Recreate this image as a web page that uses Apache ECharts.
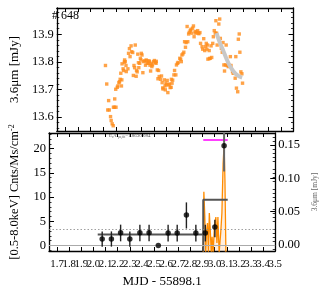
<!DOCTYPE html>
<html><head><meta charset="utf-8">
<script src="https://cdn.jsdelivr.net/npm/echarts@6/dist/echarts.min.js"></script>
<style>html,body{margin:0;padding:0;background:#fff}#c{width:327px;height:290px}</style>
</head><body><div id="c"></div>
<script>
// ---- tick labels ----
const xTickLabels = ['1.7','1.8','1.9','2.0','2.1','2.2','2.3','2.4','2.5','2.6','2.7','2.8','2.9','3.0','3.1','3.2','3.3','3.4','3.5'];
const irTickLabels = ['13.6','13.7','13.8','13.9'];
const xrTickLabels = ['0','5','10','15','20'];
const mjyTickLabels = ['0.00','0.05','0.10','0.15'];

// ---- 3.6 micron light curve (top panel) ----
const irX = [2.017,2.027,2.042,2.035,2.047,2.057,2.062,2.070,2.078,2.080,2.090,2.088,2.098,2.100,2.110,2.115,2.123,2.128,2.133,2.138,
2.143,2.146,2.156,2.148,2.161,2.166,2.173,2.168,2.179,2.181,2.194,2.199,2.206,2.211,2.219,2.224,2.232,2.237,2.242,2.247,
2.252,2.259,2.262,2.267,2.272,2.280,2.277,2.287,2.292,2.297,2.300,2.305,2.312,2.317,2.325,2.333,2.338,2.343,2.345,2.355,
2.360,2.363,2.368,2.373,2.378,2.383,2.388,2.396,2.403,2.411,2.416,2.418,2.426,2.436,2.431,2.441,2.451,2.459,2.464,2.469,
2.471,2.481,2.487,2.489,2.494,2.499,2.504,2.509,2.517,2.522,2.527,2.535,2.537,2.542,2.547,2.557,2.562,
2.572,2.577,2.585,2.590,2.603,2.610,2.615,2.620,2.628,2.635,2.648,2.641,2.653,2.661,2.673,2.666,2.678,2.686,2.691,2.699,
2.704,2.711,2.716,2.724,2.729,2.736,2.744,2.749,2.754,2.762,2.767,2.779,2.784,2.792,2.800,2.807,2.812,2.817,2.822,2.825,
2.835,2.837,2.843,2.850,2.855,2.863,2.868,2.875,2.883,2.888,2.893,2.898,2.911,2.918,2.923,2.931,2.938,2.944,2.951,2.956,
2.964,2.969,2.976,2.986,2.994,3.002,3.007,3.019,3.024,3.032,3.040,3.045,3.050,3.060,3.065,3.072,3.077,3.085,3.093,3.098];
const irY = [13.787,13.720,13.660,13.626,13.626,13.602,13.588,13.576,13.569,13.636,13.666,13.636,13.701,13.636,13.708,13.713,13.725,13.728,13.737,13.759,
13.713,13.735,13.775,13.793,13.769,13.799,13.801,13.807,13.787,13.765,13.775,13.831,13.848,13.819,13.858,13.837,13.834,13.751,13.787,13.779,
13.861,13.748,13.769,13.764,13.828,13.779,13.797,13.795,13.813,13.807,13.831,13.825,13.761,13.801,13.804,13.788,13.807,13.804,13.795,13.795,
13.804,13.801,13.788,13.767,13.795,13.783,13.789,13.801,13.805,13.798,13.795,13.802,13.771,13.769,13.739,13.747,13.737,13.749,13.725,13.706,
13.702,13.735,13.713,13.699,13.723,13.717,13.733,13.689,13.717,13.720,13.707,13.708,13.737,13.723,13.734,13.753,13.769,
13.753,13.789,13.795,13.798,13.813,13.810,13.801,13.825,13.829,13.835,13.853,13.873,13.870,13.928,13.901,13.873,13.907,13.913,13.918,13.904,
13.922,13.930,13.891,13.910,13.904,13.908,13.913,13.904,13.902,13.906,13.867,13.855,13.846,13.884,13.841,13.855,13.867,13.846,13.861,13.810,
13.841,13.812,13.813,13.858,13.816,13.867,13.891,13.913,13.904,13.949,13.904,13.861,13.937,13.955,13.885,13.849,13.835,13.870,13.789,13.767,
13.789,13.861,13.787,13.783,13.787,13.819,13.787,13.765,13.759,13.759,13.741,13.819,13.705,13.692,13.882,13.901,13.835,13.764,13.757,13.723];
const fitX = [2.893,2.918,2.944,2.969,2.994,3.020,3.045,3.070,3.095];
const fitY = [13.904,13.871,13.843,13.814,13.789,13.770,13.756,13.748,13.743];

// ---- X-ray light curve (bottom panel, left axis) ----
const xrX  = [2.072,2.148,2.224,2.300,2.383,2.459,2.535,2.616,2.691,2.767,2.845,2.923,3.002,3.078];
const xrY  = [1.32,1.32,2.63,1.32,2.63,2.63,0.0,2.56,2.56,6.28,2.56,2.56,3.80,20.6];
const xrLo = [-0.25,-0.25,0.85,-0.25,0.85,0.85,0.0,0.83,0.83,3.5,0.83,0.83,1.7,15.3];
const xrHi = [2.9,2.9,4.3,2.9,4.3,4.3,0.0,4.28,4.28,8.9,4.28,4.28,5.3,23.3];
const blockX = [2.035,2.906,2.906,2.906,3.108];
const blockY = [2.27,2.27,-1.2,9.45,9.45];
const flareX = [2.906,3.108];
const flareY = [21.8,21.8];
const zeroLevel = 0;
const dottedLevel = 3.25;

// ---- 3.6 micron excess (bottom panel, right axis) ----
const exX = [2.906,2.911,2.919,2.926,2.934,2.941,2.949,2.956,2.964,2.972,2.979,2.987,2.997,3.010,3.019,3.027,3.037,3.050,3.060,3.070,3.078,3.085,3.093,3.100];
const exY = [-0.012,0.080,0.042,-0.012,0.0225,0.033,-0.012,0.048,0.0225,-0.012,0.0125,-0.012,0.0225,0.042,0.003,0.042,-0.012,0.018,0.048,0.1225,0.15,0.0975,-0.012,-0.012];

const F = 'Liberation Serif';
const xTicks = xTickLabels.map(Number);
const xTicksA = xTicks.filter((v, i) => i % 2 === 0);
const xTicksB = xTicks.filter((v, i) => i % 2 === 1);
const XMIN = 1.633, XMAX = 3.5;

function xAx(grid, pos, labelVals, name, bare) {
  return {
    type: 'value', gridIndex: grid, position: pos, min: XMIN, max: XMAX,
    axisLine: {show: !bare, onZero: false, lineStyle: {color: '#000', width: 1.3}},
    axisTick: {show: !bare, inside: true, length: 4, customValues: xTicks, lineStyle: {color: '#000', width: 1}},
    axisLabel: {show: !!labelVals, customValues: labelVals || xTicks, formatter: v => v.toFixed(1), fontFamily: F, fontSize: 10.8, color: '#000', margin: 8,
                showMinLabel: true, showMaxLabel: true, hideOverlap: false},
    splitLine: {show: false},
    name: name || '', nameLocation: 'middle', nameGap: 24,
    nameTextStyle: {fontFamily: F, fontSize: 13, color: '#000'}
  };
}
function yAx(grid, pos, min, max, labels, vals, digits, extra) {
  return Object.assign({
    type: 'value', gridIndex: grid, position: pos, min: min, max: max,
    axisLine: {show: true, onZero: false, lineStyle: {color: '#000', width: 1.3}},
    axisTick: {show: true, inside: true, length: 5, customValues: vals, lineStyle: {color: '#000', width: 1}},
    minorTick: {show: true, splitNumber: 5, length: 2.5, lineStyle: {color: '#000', width: 0.8}},
    axisLabel: {show: labels, customValues: vals, formatter: v => v.toFixed(digits), fontFamily: F, fontSize: 12.5, color: '#000', margin: 3},
    splitLine: {show: false}
  }, extra || {});
}

const irTicks = irTickLabels.map(Number);
const xrTicks = xrTickLabels.map(Number);
const mjyTicks = mjyTickLabels.map(Number);

const chart = echarts.init(document.getElementById('c'), null, {renderer: 'canvas'});
chart.setOption({
  animation: false,
  backgroundColor: '#fff',
  grid: [
    {left: 47, right: 33.5, top: 8, height: 123},
    {left: 47, right: 33.5, top: 133, height: 118}
  ],
  xAxis: [
    xAx(0, 'bottom', null),
    xAx(0, 'top', null),
    xAx(1, 'bottom', xTicksA, 'MJD - 55898.1'),
    xAx(1, 'top', null),
    xAx(1, 'bottom', xTicksB, '', true)
  ],
  yAxis: [
    yAx(0, 'left', 13.55, 13.995, true, irTicks, 1, {
      name: '3.6μm [mJy]', nameLocation: 'middle', nameGap: 28,
      nameTextStyle: {fontFamily: F, fontSize: 13, color: '#000'}}),
    yAx(0, 'right', 13.55, 13.995, false, irTicks, 1),
    yAx(1, 'left', -1.15, 23.25, true, xrTicks, 0, {
      name: '[0.5-8.0keV] Cnts/Ms/cm{sup|-2}', nameLocation: 'middle', nameGap: 27,
      nameTextStyle: {fontFamily: F, fontSize: 12.5, color: '#000',
        rich: {sup: {fontFamily: F, fontSize: 8, verticalAlign: 'top', padding: [0,0,6,0]}}}}),
    yAx(1, 'right', -0.009, 0.168, true, mjyTicks, 2, {
      name: '3.6μm [mJy]', nameLocation: 'middle', nameGap: 17,
      nameTextStyle: {fontFamily: F, fontSize: 7.5, color: '#666'}})
  ],
  series: [
    {type: 'scatter', xAxisIndex: 0, yAxisIndex: 0, symbol: 'rect', symbolSize: 3.4,
     itemStyle: {color: '#ff8c1a'}, data: irX.map((x, i) => [x, irY[i]]), z: 3},
    {type: 'line', xAxisIndex: 0, yAxisIndex: 0, smooth: true, symbol: 'none',
     lineStyle: {color: '#c8c8c8', width: 4}, data: fitX.map((x, i) => [x, fitY[i]]), z: 4},
    {type: 'line', xAxisIndex: 2, yAxisIndex: 2, symbol: 'none', data: [],
     markLine: {silent: true, symbol: 'none', label: {show: false},
       data: [
         {yAxis: zeroLevel, lineStyle: {color: '#aaa', width: 1, type: 'solid'}},
         {yAxis: dottedLevel, lineStyle: {color: '#888', width: 0.8, type: [1.5, 2]}}
       ]}},
    {type: 'line', xAxisIndex: 2, yAxisIndex: 3, symbol: 'none',
     lineStyle: {color: '#ff8c00', width: 1.3},
     areaStyle: {color: 'rgba(255,170,90,0.28)', origin: 'start'},
     data: exX.map((x, i) => [x, exY[i]]), z: 2},
    {type: 'line', xAxisIndex: 2, yAxisIndex: 2, symbol: 'none',
     lineStyle: {color: '#555', width: 2}, data: blockX.map((x, i) => [x, blockY[i]]), z: 3},
    {type: 'line', xAxisIndex: 2, yAxisIndex: 2, symbol: 'none',
     lineStyle: {color: '#ff00ff', width: 1.3}, data: flareX.map((x, i) => [x, flareY[i]]), z: 3},
    {type: 'custom', xAxisIndex: 2, yAxisIndex: 2, z: 5,
     data: xrX.map((x, i) => [x, xrLo[i], xrHi[i], xrY[i]]),
     renderItem: function (params, api) {
       const a = api.coord([api.value(0), api.value(1)]);
       const b = api.coord([api.value(0), api.value(2)]);
       const big = api.value(3) > 15;
       return {type: 'line', shape: {x1: a[0], y1: a[1], x2: b[0], y2: b[1]},
               style: {stroke: big ? '#666' : '#222', lineWidth: big ? 2 : 1.4}};
     }},
    {type: 'scatter', xAxisIndex: 2, yAxisIndex: 2, symbol: 'circle', symbolSize: 5.5,
     itemStyle: {color: '#000'}, data: xrX.map((x, i) => [x, xrY[i]]), z: 6}
  ],
  graphic: [
    {type: 'text', left: 52, top: 10, style: {text: '# 648', font: '12px "Liberation Serif"', fill: '#000'}},
    {type: 'text', left: 109, top: 133, style: {
      text: '{n|E}{s|s}{n|/C}{s|ps,fit}{n|=1.8630.084}', fill: '#555',
      rich: {n: {fontSize: 5, fontFamily: F, fill: '#555'}, s: {fontSize: 3.5, fontFamily: F, fill: '#555', padding: [3,0,0,0]}}}}
  ]
});
</script>
</body></html>
